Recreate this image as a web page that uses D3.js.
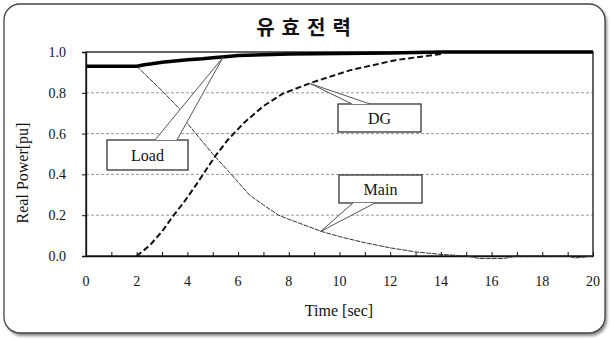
<!DOCTYPE html>
<html>
<head>
<meta charset="utf-8">
<script src="https://cdn.jsdelivr.net/npm/d3@7"></script>
<style>
  body { margin: 0; background: #fff; }
  svg text { font-family: "Liberation Serif", "DejaVu Serif", serif; fill: #111; }
</style>
</head>
<body>
<div id="chart"></div>
<script>
// Real power curves (pu) vs time (sec)
const loadT = [0, 2, 2.3, 2.6, 3, 3.4, 4, 4.6, 5, 5.6, 6, 7, 8, 10, 12, 14, 20];
const loadP = [0.93, 0.93, 0.937, 0.942, 0.95, 0.955, 0.962, 0.967, 0.972, 0.978, 0.983, 0.986, 0.99, 0.993, 0.995, 1.0, 1.0];

const dgT = [2, 2.5, 3, 3.4, 3.9, 4.35, 5.1, 5.6, 6.25, 7, 7.75, 8.9, 10.4, 12.2, 14];
const dgP = [0, 0.05, 0.12, 0.19, 0.27, 0.35, 0.49, 0.57, 0.655, 0.735, 0.795, 0.85, 0.91, 0.96, 0.99];

const mainT = [2, 3, 3.7, 4, 5, 5.66, 6.44, 7, 7.6, 8, 9.3, 10, 11, 12, 13, 14, 15, 15.5, 16.5, 17, 19, 19.3, 20];
const mainP = [0.93, 0.81, 0.72, 0.65, 0.50, 0.41, 0.30, 0.25, 0.20, 0.18, 0.12, 0.095, 0.065, 0.04, 0.02, 0.008, 0, -0.012, -0.012, 0, 0, -0.01, 0];

const xTicks = d3.range(0, 21, 2);
const yTicks = [0, 0.2, 0.4, 0.6, 0.8, 1.0];

// callouts: label, tip point [t, p], box [x0, x1, y0, y1] in px, wedge base x pair
const callouts = [
  { label: "Load", tip: [5.4, 0.973], box: [107, 188, 140, 170], base: [155, 177], side: "top" },
  { label: "DG", tip: [8.85, 0.845], box: [338, 421, 104, 132], base: [352, 370], side: "top" },
  { label: "Main", tip: [9.25, 0.12], box: [339, 422, 175, 203], base: [353, 375], side: "bottom" }
];

const serif = "'Liberation Serif', 'Times New Roman', serif";
const width = 610, height = 340;
const margin = { top: 52, right: 17, bottom: 84, left: 86 };

const svg = d3.select("#chart").append("svg")
  .attr("width", width).attr("height", height);

// frame with soft shadow
const defs = svg.append("defs");
const f = defs.append("filter").attr("id", "shadow").attr("x", "-5%").attr("y", "-5%").attr("width", "110%").attr("height", "110%");
f.append("feGaussianBlur").attr("stdDeviation", 1.5);

svg.append("rect")
  .attr("x", 6).attr("y", 6).attr("width", 601).attr("height", 330)
  .attr("rx", 16).attr("fill", "#888").attr("filter", "url(#shadow)");
svg.append("rect")
  .attr("x", 4).attr("y", 4).attr("width", 601).attr("height", 329)
  .attr("rx", 16).attr("fill", "#fff").attr("stroke", "#444").attr("stroke-width", 1.3);

const x = d3.scaleLinear().domain([0, 20]).range([margin.left, width - margin.right]);
const y = d3.scaleLinear().domain([0, 1]).range([height - margin.bottom, margin.top]);

// gridlines
svg.append("g")
  .selectAll("line")
  .data(yTicks.filter(v => v > 0 && v < 1))
  .enter().append("line")
  .attr("x1", x(0)).attr("x2", x(20))
  .attr("y1", d => y(d)).attr("y2", d => y(d))
  .attr("stroke", "#999").attr("stroke-width", 1)
  .attr("stroke-dasharray", "3,2");

// plot border
svg.append("rect")
  .attr("x", x(0)).attr("y", y(1))
  .attr("width", x(20) - x(0)).attr("height", y(0) - y(1))
  .attr("fill", "none").attr("stroke", "#111").attr("stroke-width", 1.3);

// x axis: inward minor ticks every 1 sec
const xAxis = svg.append("g")
  .attr("transform", `translate(0,${y(0)})`)
  .call(d3.axisBottom(x).tickValues(d3.range(0, 21, 1)).tickSizeInner(-4).tickSizeOuter(0).tickFormat(""));
xAxis.select(".domain").attr("stroke", "#111").attr("stroke-width", 1.3);
xAxis.selectAll(".tick line").attr("stroke", "#111");

svg.append("g")
  .selectAll("text")
  .data(xTicks)
  .enter().append("text")
  .attr("x", d => x(d)).attr("y", y(0) + 30)
  .attr("text-anchor", "middle")
  .style("font-family", serif).style("font-size", "14px")
  .text(d => d);

// y axis
const yAxis = svg.append("g")
  .attr("transform", `translate(${x(0)},0)`)
  .call(d3.axisLeft(y).tickValues(yTicks).tickSize(4).tickPadding(16).tickFormat(d3.format(".1f")));
yAxis.select(".domain").attr("stroke", "#111").attr("stroke-width", 1.3);
yAxis.selectAll(".tick line").attr("stroke", "#111");
yAxis.selectAll(".tick text")
  .style("font-family", serif).style("font-size", "14px").attr("fill", "#111");

// curves
const line = d3.line().x(d => x(d[0])).y(d => y(d[1]));

svg.append("path")
  .datum(mainT.map((t, i) => [t, mainP[i]]))
  .attr("d", line)
  .attr("fill", "none").attr("stroke", "#333").attr("stroke-width", 1)
  .attr("stroke-dasharray", "5,1");

svg.append("path")
  .datum(dgT.map((t, i) => [t, dgP[i]]))
  .attr("d", line)
  .attr("fill", "none").attr("stroke", "#111").attr("stroke-width", 2)
  .attr("stroke-dasharray", "6,3");

svg.append("path")
  .datum(loadT.map((t, i) => [t, loadP[i]]))
  .attr("d", line)
  .attr("fill", "none").attr("stroke", "#000").attr("stroke-width", 3.5);

// callouts
callouts.forEach(c => {
  const [x0, x1, y0, y1] = c.box;
  const by = c.side === "top" ? y0 : y1;
  const tx = x(c.tip[0]), ty = y(c.tip[1]);
  const g = svg.append("g");
  g.append("rect")
    .attr("x", x0).attr("y", y0).attr("width", x1 - x0).attr("height", y1 - y0)
    .attr("fill", "#fff").attr("stroke", "#222").attr("stroke-width", 1.2);
  g.append("path")
    .attr("d", `M${c.base[0]},${by}L${tx},${ty}L${c.base[1]},${by}Z`)
    .attr("fill", "#fff").attr("stroke", "none");
  g.append("path")
    .attr("d", `M${c.base[0]},${by}L${tx},${ty}L${c.base[1]},${by}`)
    .attr("fill", "none").attr("stroke", "#555").attr("stroke-width", 1);
  g.append("text")
    .attr("x", (x0 + x1) / 2).attr("y", (y0 + y1) / 2 + 5.5)
    .attr("text-anchor", "middle")
    .style("font-family", serif).style("font-size", "16px")
    .text(c.label);
});

// titles
svg.append("text")
  .attr("x", 307).attr("y", 35)
  .attr("text-anchor", "middle")
  .style("font-family", "'Noto Sans CJK KR', sans-serif")
  .style("font-weight", "bold").style("font-size", "20px")
  .attr("letter-spacing", 7)
  .text("유효전력");

svg.append("text")
  .attr("x", 339).attr("y", 316)
  .attr("text-anchor", "middle")
  .style("font-family", serif).style("font-size", "16px")
  .text("Time [sec]");

svg.append("text")
  .attr("transform", "rotate(-90)")
  .attr("x", -173).attr("y", 28)
  .attr("text-anchor", "middle")
  .style("font-family", serif).style("font-size", "16px")
  .text("Real Power[pu]");
</script>
</body>
</html>
